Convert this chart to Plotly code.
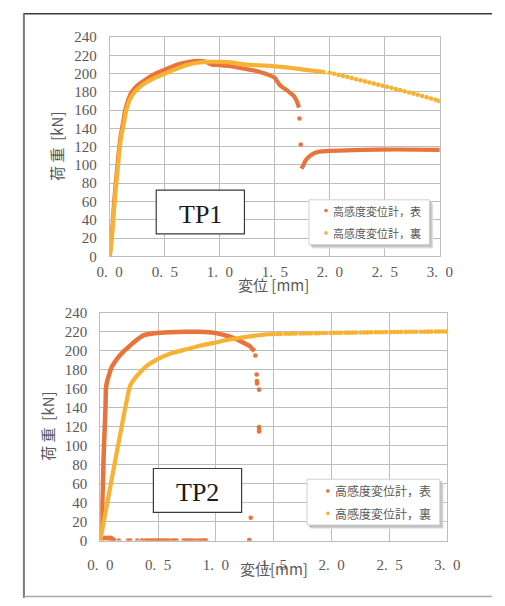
import plotly.graph_objects as go

# ---------------- DATA ----------------
x_ticks = [0, 0.5, 1.0, 1.5, 2.0, 2.5, 3.0]
x_tick_labels = ["0.\u20020", "0.\u20025", "1.\u20020", "1.\u20025", "2.\u20020", "2.\u20025", "3.\u20020"]
y_ticks = list(range(0, 241, 20))

series_names = ["高感度変位計，表", "高感度変位計，裏"]

# TP1 - 表 (front)
tp1_front_dense_x = [0, 0.02, 0.04, 0.07, 0.10, 0.112, 0.14, 0.17, 0.20, 0.25, 0.30, 0.414, 0.50, 0.615, 0.70, 0.816,
                     0.87, 0.93, 1.00, 1.075, 1.20, 1.35, 1.45, 1.50, 1.53, 1.56, 1.62, 1.67, 1.70, 1.72]
tp1_front_dense_y = [0, 25, 60, 100, 133, 140, 160, 172, 180, 187, 191.5, 200, 204.5, 210, 212.5, 214,
                     213, 210, 209.5, 208.5, 206, 202.5, 198.5, 195.5, 190, 186, 181, 176, 170, 163]
tp1_front_sparse_x = [1.724, 1.736]
tp1_front_sparse_y = [151, 122.5]
tp1_front_tail_x = [1.741, 1.76, 1.78, 1.81, 1.85, 1.90, 2.00, 2.30, 2.60, 3.00]
tp1_front_tail_y = [96, 100, 105, 109, 112.5, 114.5, 115.5, 116.5, 117, 116.5]

# TP1 - 裏 (back)
tp1_back_dense_x = [0, 0.02, 0.045, 0.075, 0.105, 0.12, 0.15, 0.18, 0.22, 0.30, 0.40, 0.50, 0.60, 0.70, 0.80,
                    0.90, 1.00, 1.10, 1.20, 1.30, 1.40, 1.50, 1.60, 1.70, 1.80, 1.90, 1.96]
tp1_back_dense_y = [0, 22, 60, 100, 133, 140, 160, 171, 179, 188, 195, 200, 205, 209.5, 212,
                    213, 213, 212.5, 210.5, 209.5, 209, 208, 207, 205.5, 204, 202.5, 201.5]
tp1_back_sparse_x = [2.00, 2.04, 2.08, 2.12, 2.16, 2.20, 2.24, 2.28, 2.32, 2.36, 2.40, 2.44, 2.48, 2.52,
                     2.56, 2.60, 2.64, 2.68, 2.72, 2.76, 2.80, 2.84, 2.88, 2.92, 2.96, 2.99]
tp1_back_sparse_y = [201.0, 199.9, 198.7, 197.6, 196.4, 195.2, 194.0, 192.8, 191.6, 190.4, 189.2, 188.0, 186.9, 185.7,
                     184.5, 183.3, 182.0, 180.8, 179.5, 178.2, 176.9, 175.6, 174.2, 172.8, 171.4, 170.3]

# TP2 - 表 (front)
tp2_front_dense_x = [0, 0.014, 0.03, 0.045, 0.049, 0.06, 0.077, 0.10, 0.145, 0.20, 0.254, 0.30, 0.377, 0.473,
                     0.60, 0.746, 0.85, 0.937, 1.02, 1.10, 1.17, 1.238, 1.29, 1.333]
tp2_front_dense_y = [0, 24, 92, 140, 160, 168, 175, 183, 191.5, 199, 205, 210, 216.5, 218.5,
                     219.5, 220, 220, 219.5, 218, 215.5, 212.5, 208.5, 205, 199.5]
tp2_front_sparse_x = [1.34, 1.352, 1.354, 1.355, 1.372, 1.372, 1.373, 1.372, 1.30, 1.287, 1.29,
                      0.03, 0.045, 0.06, 0.07, 0.08, 0.09, 0.10, 0.11, 0.12, 0.16, 0.24, 0.26, 0.32, 0.36,
                      0.39, 0.41, 0.43, 0.45, 0.47, 0.49, 0.51, 0.53, 0.55, 0.57, 0.59, 0.62, 0.64, 0.66,
                      0.72, 0.74, 0.76, 0.78, 0.80, 0.83, 0.86, 0.88, 0.90, 0.915]
tp2_front_sparse_y = [195, 175, 168, 165.5, 159, 119.5, 117, 115, 24, 0.5, 0,
                      2, 3, 2.5, 3, 1.5, 3, 2, 1, 0.5, 0, 0, 0, 0, 0,
                      0, 0, 0, 0, 0, 0, 0, 0, 0, 0, 0, 0, 0, 0,
                      0, 0, 0, 0, 0, 0, 0, 0, 0, 0]

# TP2 - 裏 (back)
tp2_back_dense_x = [0, 0.254, 0.27, 0.309, 0.35, 0.391, 0.45, 0.527, 0.62, 0.746, 0.85, 0.992, 1.10, 1.21,
                    1.35, 1.45, 1.51]
tp2_back_dense_y = [0, 162, 166, 172.5, 178, 183, 188, 193, 197.5, 201.5, 205, 208.5, 211.5, 213.7,
                    216, 217.3, 217.8]
tp2_back_sparse_x = [1.53, 1.56, 1.60, 1.63, 1.66, 1.69, 1.73, 1.76, 1.79, 1.82, 1.86, 1.89, 1.92, 1.95, 1.99,
                     2.02, 2.05, 2.08, 2.12, 2.15, 2.18, 2.21, 2.25, 2.28, 2.31, 2.34, 2.38, 2.41, 2.44, 2.47,
                     2.51, 2.54, 2.57, 2.60, 2.64, 2.67, 2.70, 2.73, 2.77, 2.80, 2.83, 2.86, 2.90, 2.93, 2.96, 2.99]
tp2_back_sparse_y = [217.6, 217.7, 217.8, 217.9, 218.0, 218.0, 218.1, 218.2, 218.3, 218.3, 218.4, 218.5, 218.6,
                     218.6, 218.7, 218.8, 218.9, 218.9, 219.0, 219.0, 219.1, 219.1, 219.2, 219.3, 219.3, 219.4,
                     219.4, 219.5, 219.5, 219.6, 219.6, 219.7, 219.7, 219.8, 219.8, 219.9, 219.9, 219.9, 220.0,
                     220.0, 220.1, 220.1, 220.1, 220.2, 220.2, 220.3]

# ---------------- STYLE ----------------
W, H = 505, 606
RED = "#E8743B"
YEL = "#F7B233"
GRID = "#BDBDBD"
TXT = "#595959"
FONT = "Noto Sans CJK JP"
TICKFONT = "Liberation Sans Narrow"
SERIF = "Liberation Serif"


def px(v):
    return v / W


def py(v):
    return 1 - v / H


fig = go.Figure()


def add_series(xs_line, ys_line, xs_dots, ys_dots, color, xa, ya, lw, extra=None):
    fig.add_trace(go.Scatter(x=xs_line, y=ys_line, mode="lines", line=dict(color=color, width=lw, shape="spline", smoothing=0.4),
                             xaxis=xa, yaxis=ya, showlegend=False, hoverinfo="skip"))
    if extra is not None:
        fig.add_trace(go.Scatter(x=extra[0], y=extra[1], mode="lines", line=dict(color=color, width=lw, shape="spline", smoothing=0.4),
                                 xaxis=xa, yaxis=ya, showlegend=False, hoverinfo="skip"))
    fig.add_trace(go.Scatter(x=xs_dots, y=ys_dots, mode="markers", marker=dict(color=color, size=4.6),
                             xaxis=xa, yaxis=ya, showlegend=False))


add_series(tp1_front_dense_x, tp1_front_dense_y, tp1_front_sparse_x, tp1_front_sparse_y, RED, "x", "y", 4.2,
           extra=(tp1_front_tail_x, tp1_front_tail_y))
add_series(tp1_back_dense_x, tp1_back_dense_y, tp1_back_sparse_x, tp1_back_sparse_y, YEL, "x", "y", 4.2)
add_series(tp2_front_dense_x, tp2_front_dense_y, tp2_front_sparse_x, tp2_front_sparse_y, RED, "x2", "y2", 4.5)
add_series(tp2_back_dense_x, tp2_back_dense_y, tp2_back_sparse_x, tp2_back_sparse_y, YEL, "x2", "y2", 4.2)

axis_common = dict(showgrid=True, gridcolor=GRID, gridwidth=1, zeroline=False, showline=True, linecolor=GRID,
                   linewidth=1, mirror=True, ticks="outside", tickcolor="rgba(0,0,0,0)",
                   tickfont=dict(family=TICKFONT, size=15, color=TXT), fixedrange=True)

fig.update_layout(
    width=W, height=H, margin=dict(l=0, r=0, t=0, b=0),
    paper_bgcolor="white", plot_bgcolor="white", showlegend=False,
    xaxis=dict(domain=[px(102), px(450)], range=[0, 3], tickvals=x_ticks, ticktext=x_tick_labels, anchor="y",
               ticklen=2, **axis_common),
    yaxis=dict(domain=[py(255), py(30)], range=[0, 240], tickvals=y_ticks, anchor="x", ticklen=9, **axis_common),
    xaxis2=dict(domain=[px(92), px(458)], range=[0, 3], tickvals=x_ticks, ticktext=x_tick_labels, anchor="y2",
                ticklen=10, **axis_common),
    yaxis2=dict(domain=[py(547), py(313)], range=[0, 240], tickvals=y_ticks, anchor="x2", ticklen=9, **axis_common),
)

shapes = []
# outer frame
shapes.append(dict(type="line", xref="paper", yref="paper", x0=px(11), x1=px(505), y0=py(6), y1=py(6),
                   line=dict(color="#3A3A3A", width=1.5)))
shapes.append(dict(type="line", xref="paper", yref="paper", x0=px(11.5), x1=px(11.5), y0=py(6), y1=py(606),
                   line=dict(color="#7A7A7A", width=2)))
shapes.append(dict(type="line", xref="paper", yref="paper", x0=px(11), x1=px(505), y0=py(604.5), y1=py(604.5),
                   line=dict(color="#A8A8A8", width=1.5)))


def box(x0, y0, x1, y1, color, width, fill="white"):
    shapes.append(dict(type="rect", xref="paper", yref="paper", x0=px(x0), x1=px(x1), y0=py(y1), y1=py(y0),
                       line=dict(color=color, width=width), fillcolor=fill, layer="above"))


def shadow(x0, y0, x1, y1):
    for off, col in [(4, "#E4E4E4"), (3, "#D0D0D0"), (2, "#BEBEBE")]:
        shapes.append(dict(type="rect", xref="paper", yref="paper", x0=px(x0 + off), x1=px(x1 + off),
                           y0=py(y1 + off), y1=py(y0 + off), line=dict(width=0), fillcolor=col, layer="above"))


def dot(cx, cy, color, r=1.9):
    shapes.append(dict(type="circle", xref="paper", yref="paper", x0=px(cx - r), x1=px(cx + r), y0=py(cy + r),
                       y1=py(cy - r), line=dict(width=0), fillcolor=color, layer="above"))


# TP label boxes
box(151, 187, 244, 232, "#3A3A3A", 1.2)
box(148, 473, 241, 518, "#3A3A3A", 1.2)
# legend boxes
shadow(312, 197, 439, 243)
box(312, 197, 439, 243, "#D0D0D0", 1)
dot(330, 208, RED)
dot(330, 231, YEL)
shadow(310, 484, 450, 531)
box(310, 484, 450, 531, "#D0D0D0", 1)
dot(332, 496, RED)
dot(332, 519, YEL)
fig.update_layout(shapes=shapes)

ann = []


def text(x, y, s, size, family=FONT, color=TXT, xanchor="center", angle=0):
    ann.append(dict(xref="paper", yref="paper", x=px(x), y=py(y), text=s, showarrow=False, xanchor=xanchor,
                    yanchor="middle", textangle=angle, font=dict(family=family, size=size, color=color)))


text(275, 284, "変位 [mm]", 15)
text(275, 576, "変位[mm]", 15)
text(46, 142, "荷 重  [kN]", 15, angle=-90)
text(37, 430, "荷 重  [kN]", 15, angle=-90)
text(197.5, 212, "TP1", 26, family=SERIF, color="#1A1A1A")
text(194.5, 498, "TP2", 26, family=SERIF, color="#1A1A1A")
text(335, 208, series_names[0], 11, xanchor="left")
text(335, 231, series_names[1], 11, xanchor="left")
text(337, 496, series_names[0], 12, xanchor="left")
text(337, 519, series_names[1], 12, xanchor="left")
fig.update_layout(annotations=ann)

fig.write_html("out.html", config={"displayModeBar": False})
